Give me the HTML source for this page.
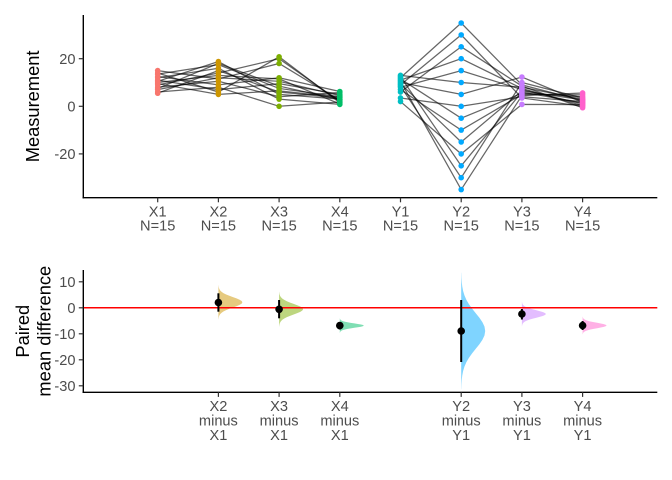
<!DOCTYPE html>
<html>
<head>
<meta charset="utf-8">
<style>
  html,body{margin:0;padding:0;background:#ffffff;}
  svg{display:block;}
  .tk{font-family:"Liberation Sans",Arial,sans-serif;font-size:14.6px;fill:#4D4D4D;}
  .ttl{font-family:"Liberation Sans",Arial,sans-serif;font-size:18.3px;fill:#000000;}
</style>
</head>
<body>
<svg width="672" height="480" viewBox="0 0 672 480" xmlns="http://www.w3.org/2000/svg">
  <defs>
    <path id="v" d="M0,-3.3 L0.12,-3.25 L0.27,-3 L0.55,-2.75 L1.05,-2.5 L1.91,-2.25 L3.25,-2 L5.19,-1.75 L7.79,-1.5 L10.99,-1.25 L14.56,-1 L18.12,-0.75 L21.18,-0.5 L23.26,-0.25 L24,0 L23.26,0.25 L21.18,0.5 L18.12,0.75 L14.56,1 L10.99,1.25 L7.79,1.5 L5.19,1.75 L3.25,2 L1.91,2.25 L1.05,2.5 L0.55,2.75 L0.27,3 L0.12,3.25 L0,3.3 Z"/>
  </defs>
  <rect x="0" y="0" width="672" height="480" fill="#ffffff"/>

  <!-- ================= TOP PANEL ================= -->
  <g fill="none" stroke="#000000" stroke-opacity="0.6" stroke-width="1.25">
    <polyline points="157.7,70.6 218.4,78.93 279.1,63.46 339.8,100.35"/>
    <polyline points="157.7,72.98 218.4,92.02 279.1,56.8 339.8,102.73"/>
    <polyline points="157.7,74.17 218.4,64.65 279.1,88.45 339.8,96.78"/>
    <polyline points="157.7,76.55 218.4,84.88 279.1,77.74 339.8,91.54"/>
    <polyline points="157.7,77.74 218.4,68.22 279.1,99.16 339.8,104.4"/>
    <polyline points="157.7,80.12 218.4,89.64 279.1,83.69 339.8,94.4"/>
    <polyline points="157.7,81.31 218.4,61.56 279.1,94.4 339.8,99.16"/>
    <polyline points="157.7,82.5 218.4,75.36 279.1,78.93 339.8,103.92"/>
    <polyline points="157.7,83.69 218.4,94.4 279.1,90.83 339.8,97.26"/>
    <polyline points="157.7,84.88 218.4,72.98 279.1,58.7 339.8,101.54"/>
    <polyline points="157.7,87.26 218.4,81.31 279.1,96.78 339.8,92.5"/>
    <polyline points="157.7,88.45 218.4,63.46 279.1,86.07 339.8,99.64"/>
    <polyline points="157.7,89.64 218.4,77.74 279.1,81.31 339.8,95.59"/>
    <polyline points="157.7,92.02 218.4,87.26 279.1,106.3 339.8,102.02"/>
    <polyline points="157.7,93.21 218.4,70.6 279.1,92.02 339.8,97.97"/>
    <polyline points="400.5,75.36 461.2,82.5 521.9,87.26 582.6,99.16"/>
    <polyline points="400.5,76.55 461.2,165.8 521.9,92.02 582.6,102.97"/>
    <polyline points="400.5,77.74 461.2,23.0 521.9,84.88 582.6,100.59"/>
    <polyline points="400.5,78.93 461.2,118.2 521.9,93.21 582.6,96.78"/>
    <polyline points="400.5,80.12 461.2,58.7 521.9,88.45 582.6,105.59"/>
    <polyline points="400.5,81.31 461.2,189.6 521.9,95.59 582.6,92.97"/>
    <polyline points="400.5,82.5 461.2,94.4 521.9,77.03 582.6,102.25"/>
    <polyline points="400.5,83.69 461.2,142.0 521.9,90.83 582.6,99.87"/>
    <polyline points="400.5,84.88 461.2,34.9 521.9,97.97 582.6,106.3"/>
    <polyline points="400.5,86.07 461.2,177.7 521.9,82.5 582.6,97.97"/>
    <polyline points="400.5,87.26 461.2,70.6 521.9,89.64 582.6,103.92"/>
    <polyline points="400.5,89.64 461.2,130.1 521.9,94.4 582.6,94.88"/>
    <polyline points="400.5,92.02 461.2,46.8 521.9,86.07 582.6,107.73"/>
    <polyline points="400.5,97.97 461.2,106.3 521.9,96.78 582.6,101.54"/>
    <polyline points="400.5,101.54 461.2,153.9 521.9,104.4 582.6,104.63"/>
  </g>

  <g fill="#F8766D">
    <circle cx="157.7" cy="70.6" r="2.8"/><circle cx="157.7" cy="72.98" r="2.8"/><circle cx="157.7" cy="74.17" r="2.8"/>
    <circle cx="157.7" cy="76.55" r="2.8"/><circle cx="157.7" cy="77.74" r="2.8"/><circle cx="157.7" cy="80.12" r="2.8"/>
    <circle cx="157.7" cy="81.31" r="2.8"/><circle cx="157.7" cy="82.5" r="2.8"/><circle cx="157.7" cy="83.69" r="2.8"/>
    <circle cx="157.7" cy="84.88" r="2.8"/><circle cx="157.7" cy="87.26" r="2.8"/><circle cx="157.7" cy="88.45" r="2.8"/>
    <circle cx="157.7" cy="89.64" r="2.8"/><circle cx="157.7" cy="92.02" r="2.8"/><circle cx="157.7" cy="93.21" r="2.8"/>
  </g>
  <g fill="#CD9600">
    <circle cx="218.4" cy="78.93" r="2.8"/><circle cx="218.4" cy="92.02" r="2.8"/><circle cx="218.4" cy="64.65" r="2.8"/>
    <circle cx="218.4" cy="84.88" r="2.8"/><circle cx="218.4" cy="68.22" r="2.8"/><circle cx="218.4" cy="89.64" r="2.8"/>
    <circle cx="218.4" cy="61.56" r="2.8"/><circle cx="218.4" cy="75.36" r="2.8"/><circle cx="218.4" cy="94.4" r="2.8"/>
    <circle cx="218.4" cy="72.98" r="2.8"/><circle cx="218.4" cy="81.31" r="2.8"/><circle cx="218.4" cy="63.46" r="2.8"/>
    <circle cx="218.4" cy="77.74" r="2.8"/><circle cx="218.4" cy="87.26" r="2.8"/><circle cx="218.4" cy="70.6" r="2.8"/>
  </g>
  <g fill="#7CAE00">
    <circle cx="279.1" cy="63.46" r="2.8"/><circle cx="279.1" cy="56.8" r="2.8"/><circle cx="279.1" cy="88.45" r="2.8"/>
    <circle cx="279.1" cy="77.74" r="2.8"/><circle cx="279.1" cy="99.16" r="2.8"/><circle cx="279.1" cy="83.69" r="2.8"/>
    <circle cx="279.1" cy="94.4" r="2.8"/><circle cx="279.1" cy="78.93" r="2.8"/><circle cx="279.1" cy="90.83" r="2.8"/>
    <circle cx="279.1" cy="58.7" r="2.8"/><circle cx="279.1" cy="96.78" r="2.8"/><circle cx="279.1" cy="86.07" r="2.8"/>
    <circle cx="279.1" cy="81.31" r="2.8"/><circle cx="279.1" cy="106.3" r="2.8"/><circle cx="279.1" cy="92.02" r="2.8"/>
  </g>
  <g fill="#00BE67">
    <circle cx="339.8" cy="100.35" r="2.8"/><circle cx="339.8" cy="102.73" r="2.8"/><circle cx="339.8" cy="96.78" r="2.8"/>
    <circle cx="339.8" cy="91.54" r="2.8"/><circle cx="339.8" cy="104.4" r="2.8"/><circle cx="339.8" cy="94.4" r="2.8"/>
    <circle cx="339.8" cy="99.16" r="2.8"/><circle cx="339.8" cy="103.92" r="2.8"/><circle cx="339.8" cy="97.26" r="2.8"/>
    <circle cx="339.8" cy="101.54" r="2.8"/><circle cx="339.8" cy="92.5" r="2.8"/><circle cx="339.8" cy="99.64" r="2.8"/>
    <circle cx="339.8" cy="95.59" r="2.8"/><circle cx="339.8" cy="102.02" r="2.8"/><circle cx="339.8" cy="97.97" r="2.8"/>
  </g>
  <g fill="#00BFC4">
    <circle cx="400.5" cy="75.36" r="2.8"/><circle cx="400.5" cy="76.55" r="2.8"/><circle cx="400.5" cy="77.74" r="2.8"/>
    <circle cx="400.5" cy="78.93" r="2.8"/><circle cx="400.5" cy="80.12" r="2.8"/><circle cx="400.5" cy="81.31" r="2.8"/>
    <circle cx="400.5" cy="82.5" r="2.8"/><circle cx="400.5" cy="83.69" r="2.8"/><circle cx="400.5" cy="84.88" r="2.8"/>
    <circle cx="400.5" cy="86.07" r="2.8"/><circle cx="400.5" cy="87.26" r="2.8"/><circle cx="400.5" cy="89.64" r="2.8"/>
    <circle cx="400.5" cy="92.02" r="2.8"/><circle cx="400.5" cy="97.97" r="2.8"/><circle cx="400.5" cy="101.54" r="2.8"/>
  </g>
  <g fill="#00A9FF">
    <circle cx="461.2" cy="23.0" r="2.8"/><circle cx="461.2" cy="34.9" r="2.8"/><circle cx="461.2" cy="46.8" r="2.8"/>
    <circle cx="461.2" cy="58.7" r="2.8"/><circle cx="461.2" cy="70.6" r="2.8"/><circle cx="461.2" cy="82.5" r="2.8"/>
    <circle cx="461.2" cy="94.4" r="2.8"/><circle cx="461.2" cy="106.3" r="2.8"/><circle cx="461.2" cy="118.2" r="2.8"/>
    <circle cx="461.2" cy="130.1" r="2.8"/><circle cx="461.2" cy="142.0" r="2.8"/><circle cx="461.2" cy="153.9" r="2.8"/>
    <circle cx="461.2" cy="165.8" r="2.8"/><circle cx="461.2" cy="177.7" r="2.8"/><circle cx="461.2" cy="189.6" r="2.8"/>
  </g>
  <g fill="#C77CFF">
    <circle cx="521.9" cy="87.26" r="2.8"/><circle cx="521.9" cy="92.02" r="2.8"/><circle cx="521.9" cy="84.88" r="2.8"/>
    <circle cx="521.9" cy="93.21" r="2.8"/><circle cx="521.9" cy="88.45" r="2.8"/><circle cx="521.9" cy="95.59" r="2.8"/>
    <circle cx="521.9" cy="77.03" r="2.8"/><circle cx="521.9" cy="90.83" r="2.8"/><circle cx="521.9" cy="97.97" r="2.8"/>
    <circle cx="521.9" cy="82.5" r="2.8"/><circle cx="521.9" cy="89.64" r="2.8"/><circle cx="521.9" cy="94.4" r="2.8"/>
    <circle cx="521.9" cy="86.07" r="2.8"/><circle cx="521.9" cy="96.78" r="2.8"/><circle cx="521.9" cy="104.4" r="2.8"/>
  </g>
  <g fill="#FF61CC">
    <circle cx="582.6" cy="99.16" r="2.8"/><circle cx="582.6" cy="102.97" r="2.8"/><circle cx="582.6" cy="100.59" r="2.8"/>
    <circle cx="582.6" cy="96.78" r="2.8"/><circle cx="582.6" cy="105.59" r="2.8"/><circle cx="582.6" cy="92.97" r="2.8"/>
    <circle cx="582.6" cy="102.25" r="2.8"/><circle cx="582.6" cy="99.87" r="2.8"/><circle cx="582.6" cy="106.3" r="2.8"/>
    <circle cx="582.6" cy="97.97" r="2.8"/><circle cx="582.6" cy="103.92" r="2.8"/><circle cx="582.6" cy="94.88" r="2.8"/>
    <circle cx="582.6" cy="107.73" r="2.8"/><circle cx="582.6" cy="101.54" r="2.8"/><circle cx="582.6" cy="104.63" r="2.8"/>
  </g>

  <g stroke="#000000" stroke-width="1.4" fill="none">
    <line x1="83.3" y1="15" x2="83.3" y2="198.4"/>
    <line x1="82.6" y1="197.7" x2="657.3" y2="197.7"/>
  </g>
  <g stroke="#333333" stroke-width="1.2">
    <line x1="78.8" y1="58.7" x2="83.3" y2="58.7"/>
    <line x1="78.8" y1="106.3" x2="83.3" y2="106.3"/>
    <line x1="78.8" y1="153.9" x2="83.3" y2="153.9"/>
    <line x1="157.7" y1="197.7" x2="157.7" y2="202.3"/>
    <line x1="218.4" y1="197.7" x2="218.4" y2="202.3"/>
    <line x1="279.1" y1="197.7" x2="279.1" y2="202.3"/>
    <line x1="339.8" y1="197.7" x2="339.8" y2="202.3"/>
    <line x1="400.5" y1="197.7" x2="400.5" y2="202.3"/>
    <line x1="461.2" y1="197.7" x2="461.2" y2="202.3"/>
    <line x1="521.9" y1="197.7" x2="521.9" y2="202.3"/>
    <line x1="582.6" y1="197.7" x2="582.6" y2="202.3"/>
  </g>
  <g class="tk" text-anchor="end">
    <text x="75.5" y="63.9">20</text>
    <text x="75.5" y="111.5">0</text>
    <text x="75.5" y="159.1">-20</text>
  </g>
  <g class="tk" text-anchor="middle">
    <text x="157.7" y="216.3">X1</text><text x="157.7" y="230.3">N=15</text>
    <text x="218.4" y="216.3">X2</text><text x="218.4" y="230.3">N=15</text>
    <text x="279.1" y="216.3">X3</text><text x="279.1" y="230.3">N=15</text>
    <text x="339.8" y="216.3">X4</text><text x="339.8" y="230.3">N=15</text>
    <text x="400.5" y="216.3">Y1</text><text x="400.5" y="230.3">N=15</text>
    <text x="461.2" y="216.3">Y2</text><text x="461.2" y="230.3">N=15</text>
    <text x="521.9" y="216.3">Y3</text><text x="521.9" y="230.3">N=15</text>
    <text x="582.6" y="216.3">Y4</text><text x="582.6" y="230.3">N=15</text>
  </g>
  <text class="ttl" text-anchor="middle" transform="translate(39,106.4) rotate(-90)">Measurement</text>

  <!-- ================= BOTTOM PANEL ================= -->
  <use href="#v" transform="translate(218.4,302.3) scale(1,5.2)" fill="#CD9600" fill-opacity="0.5"/>
  <use href="#v" transform="translate(279.1,309.2) scale(1,5.3)" fill="#7CAE00" fill-opacity="0.5"/>
  <use href="#v" transform="translate(339.8,325.6) scale(1,2.2)" fill="#00BE67" fill-opacity="0.5"/>
  <use href="#v" transform="translate(461.2,331) scale(1,17.8)" fill="#00A9FF" fill-opacity="0.5"/>
  <use href="#v" transform="translate(521.9,314) scale(1,3.7)" fill="#C77CFF" fill-opacity="0.5"/>
  <use href="#v" transform="translate(582.6,325.5) scale(1,2.7)" fill="#FF61CC" fill-opacity="0.5"/>

  <line x1="83.3" y1="307.8" x2="657.3" y2="307.8" stroke="#FF0000" stroke-width="1.5"/>

  <g stroke="#000000" stroke-width="2">
    <line x1="218.4" y1="293.3" x2="218.4" y2="311.7"/>
    <line x1="279.1" y1="300" x2="279.1" y2="318.3"/>
    <line x1="339.8" y1="322" x2="339.8" y2="329.5"/>
    <line x1="461.2" y1="300" x2="461.2" y2="362"/>
    <line x1="521.9" y1="309" x2="521.9" y2="319.5"/>
    <line x1="582.6" y1="321" x2="582.6" y2="330"/>
  </g>
  <g fill="#000000">
    <circle cx="218.4" cy="302.5" r="3.8"/>
    <circle cx="279.1" cy="309.3" r="3.8"/>
    <circle cx="339.8" cy="325.6" r="3.8"/>
    <circle cx="461.2" cy="331" r="3.8"/>
    <circle cx="521.9" cy="314" r="3.8"/>
    <circle cx="582.6" cy="325.5" r="3.8"/>
  </g>

  <g stroke="#000000" stroke-width="1.4" fill="none">
    <line x1="83.3" y1="270" x2="83.3" y2="393"/>
    <line x1="82.6" y1="392.3" x2="657.3" y2="392.3"/>
  </g>
  <g stroke="#333333" stroke-width="1.2">
    <line x1="78.8" y1="281.8" x2="83.3" y2="281.8"/>
    <line x1="78.8" y1="307.8" x2="83.3" y2="307.8"/>
    <line x1="78.8" y1="333.8" x2="83.3" y2="333.8"/>
    <line x1="78.8" y1="359.8" x2="83.3" y2="359.8"/>
    <line x1="78.8" y1="385.8" x2="83.3" y2="385.8"/>
    <line x1="218.4" y1="392.3" x2="218.4" y2="396.9"/>
    <line x1="279.1" y1="392.3" x2="279.1" y2="396.9"/>
    <line x1="339.8" y1="392.3" x2="339.8" y2="396.9"/>
    <line x1="461.2" y1="392.3" x2="461.2" y2="396.9"/>
    <line x1="521.9" y1="392.3" x2="521.9" y2="396.9"/>
    <line x1="582.6" y1="392.3" x2="582.6" y2="396.9"/>
  </g>
  <g class="tk" text-anchor="end">
    <text x="75.5" y="287">10</text>
    <text x="75.5" y="313">0</text>
    <text x="75.5" y="339">-10</text>
    <text x="75.5" y="365">-20</text>
    <text x="75.5" y="391">-30</text>
  </g>
  <g class="tk" text-anchor="middle">
    <text x="218.4" y="411">X2</text><text x="218.4" y="425.5">minus</text><text x="218.4" y="440">X1</text>
    <text x="279.1" y="411">X3</text><text x="279.1" y="425.5">minus</text><text x="279.1" y="440">X1</text>
    <text x="339.8" y="411">X4</text><text x="339.8" y="425.5">minus</text><text x="339.8" y="440">X1</text>
    <text x="461.2" y="411">Y2</text><text x="461.2" y="425.5">minus</text><text x="461.2" y="440">Y1</text>
    <text x="521.9" y="411">Y3</text><text x="521.9" y="425.5">minus</text><text x="521.9" y="440">Y1</text>
    <text x="582.6" y="411">Y4</text><text x="582.6" y="425.5">minus</text><text x="582.6" y="440">Y1</text>
  </g>
  <g class="ttl" text-anchor="middle">
    <text transform="translate(29,331.2) rotate(-90)">Paired</text>
    <text transform="translate(50.5,331.2) rotate(-90)">mean difference</text>
  </g>
</svg>
</body>
</html>
